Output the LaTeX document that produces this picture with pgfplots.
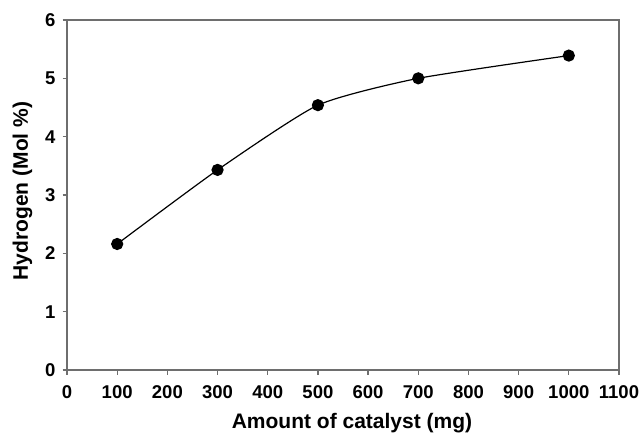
\documentclass[border=0pt]{standalone}
\usepackage{fontspec}
\setmainfont{Liberation Sans}
\usepackage{pgfplots}
\pgfplotsset{compat=1.18}
\definecolor{axisGray}{HTML}{6E6E6E}

\begin{document}
\begin{tikzpicture}
\begin{axis}[
  scale only axis,
  width=552pt, height=350pt,
  xmin=0, xmax=1100, ymin=0, ymax=6,
  xtick={0,100,...,1100},
  ytick={0,1,...,6},
  xtick pos=left, ytick pos=left,
  tick align=outside,
  major tick length=4.5pt,
  axis line style={draw=axisGray, line width=2pt},
  tick style={draw=axisGray, line width=1.3pt},
  /pgf/number format/assume math mode=true,
  /pgf/number format/1000 sep={},
  tick label style={font=\fontsize{18.5}{21}\selectfont\bfseries, inner sep=0pt},
  xticklabel style={anchor=north, yshift=-11pt},
  yticklabel style={anchor=east, xshift=-7pt},
  label style={font=\fontsize{21}{25}\selectfont\bfseries, inner sep=0pt},
  xlabel={Amount of catalyst (mg)},
  ylabel={Hydrogen (Mol \%)},
  xlabel style={at={(axis description cs:0.5,0)}, anchor=base, xshift=9pt, yshift=-58pt},
  ylabel style={at={(axis description cs:0,0.5)}, anchor=base, rotate=0, xshift=4pt, yshift=39pt},
]
\addplot[black, line width=1.2pt, smooth, tension=0.35,
  mark=*, mark size=5.5pt, mark options={fill=black}]
  coordinates {(100,2.16) (300,3.43) (500,4.54) (700,5.00) (1000,5.39)};
\end{axis}
\path ([xshift=-67pt,yshift=-63pt]current axis.south west)
  rectangle ([xshift=23pt,yshift=20pt]current axis.north east);
\end{tikzpicture}
\end{document}
